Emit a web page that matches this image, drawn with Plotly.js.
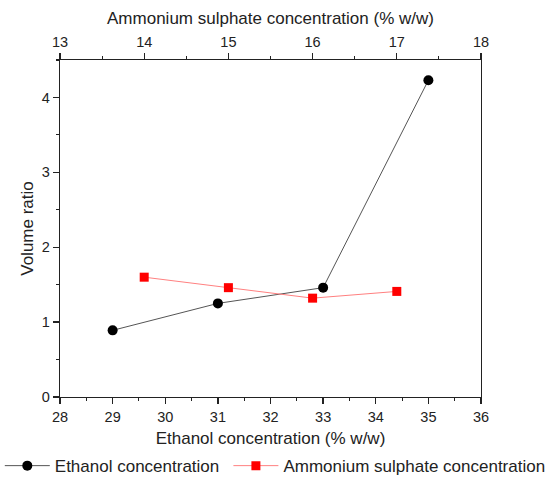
<!DOCTYPE html>
<html>
<head>
<meta charset="utf-8">
<script src="https://cdn.plot.ly/plotly-3.0.1.min.js"></script>
<style>html,body{margin:0;padding:0;background:#fff;}#chart{width:556px;height:477px;}</style>
</head>
<body>
<div id="chart"></div>
<script>
const ethanolX = [29, 31, 33, 35];
const ethanolY = [0.89, 1.25, 1.46, 4.23];
const ammoniumX = [14, 15, 16, 17];
const ammoniumY = [1.60, 1.46, 1.32, 1.41];
const seriesNames = ['Ethanol concentration', 'Ammonium sulphate concentration'];

const font = 'Liberation Sans, Arial, sans-serif';
const axisCommon = {
  showgrid: false, zeroline: false, showline: true, linecolor: '#222', linewidth: 1.3,
  ticks: 'outside', ticklen: 6, tickwidth: 1.3, tickcolor: '#222',
  tickfont: {family: font, size: 14.5, color: '#222'},
  minor: {ticks: 'outside', ticklen: 3, tickwidth: 1.1, tickcolor: '#222'}
};
const titleFont = {family: font, size: 17, color: '#222'};
const legendCommon = {orientation: 'h', xanchor: 'left', y: -0.205, yanchor: 'middle',
  font: {family: font, size: 17, color: '#222'}, itemwidth: 45, bgcolor: 'rgba(0,0,0,0)'};

const data = [
  {x: ethanolX, y: ethanolY, name: seriesNames[0], type: 'scatter', mode: 'lines+markers',
   line: {color: '#555', width: 1}, marker: {color: '#000', size: 10, symbol: 'circle'},
   xaxis: 'x', yaxis: 'y', legend: 'legend'},
  {x: ammoniumX, y: ammoniumY, name: seriesNames[1], type: 'scatter', mode: 'lines+markers',
   line: {color: '#ff8080', width: 1}, marker: {color: '#ff0000', size: 9, symbol: 'square'},
   xaxis: 'x2', yaxis: 'y', legend: 'legend2'}
];

const layout = {
  width: 556, height: 477,
  margin: {l: 60, r: 75, t: 60, b: 80, autoexpand: false},
  paper_bgcolor: '#fff', plot_bgcolor: '#fff',
  font: {family: font, color: '#222'},
  showlegend: true,
  legend: Object.assign({}, legendCommon, {x: -0.143}),
  legend2: Object.assign({}, legendCommon, {x: 0.40}),
  xaxis: Object.assign({}, axisCommon, {
    range: [28, 36], dtick: 1, tick0: 28, mirror: false, automargin: false,
    minor: Object.assign({}, axisCommon.minor, {dtick: 0.5}),
    title: {text: 'Ethanol concentration (% w/w)', font: titleFont, standoff: 8}
  }),
  xaxis2: Object.assign({}, axisCommon, {
    range: [13, 18], dtick: 1, tick0: 13, overlaying: 'x', side: 'top', anchor: 'y', automargin: false,
    minor: Object.assign({}, axisCommon.minor, {dtick: 0.5}),
    title: {text: 'Ammonium sulphate concentration (% w/w)', font: titleFont, standoff: 5}
  }),
  yaxis: Object.assign({}, axisCommon, {
    range: [0, 4.5], dtick: 1, tick0: 0, mirror: true, automargin: false,
    minor: Object.assign({}, axisCommon.minor, {dtick: 0.5}),
    title: {text: 'Volume ratio', font: titleFont, standoff: 3}
  })
};

Plotly.newPlot('chart', data, layout, {displayModeBar: false, staticPlot: true});
</script>
</body>
</html>
